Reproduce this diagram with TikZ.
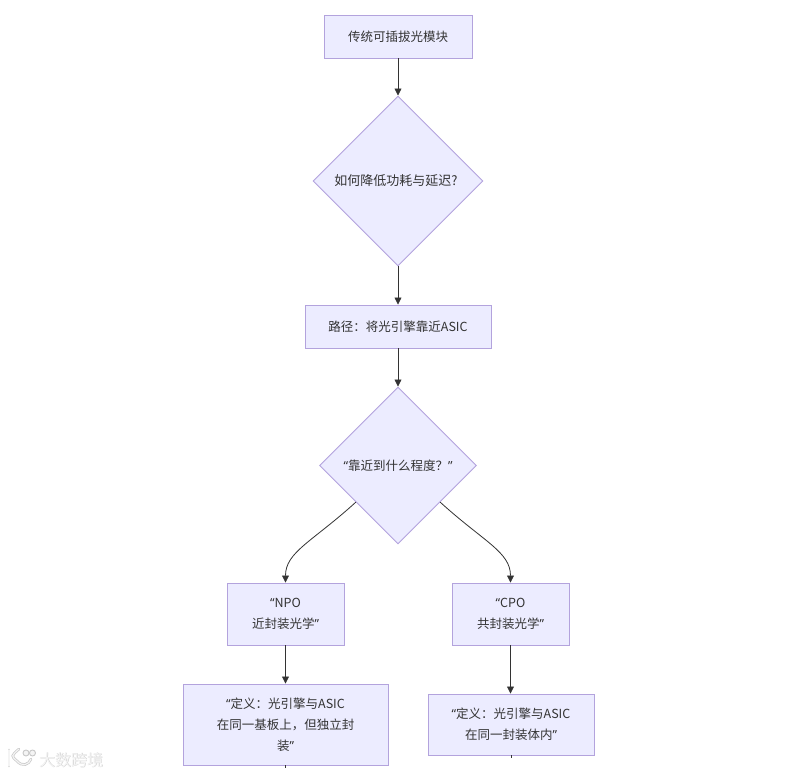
\documentclass[tikz,border=0pt]{standalone}
\usepackage{fontspec}
\setmainfont{Noto Sans CJK SC}
\newfontfamily\quotefont{Noto Sans}
\newcommand{\lqt}{{\quotefont “}}
\newcommand{\rqt}{{\quotefont ”}}
\usetikzlibrary{shapes.geometric,arrows.meta,calc}
\definecolor{nodefill}{HTML}{ECECFF}
\definecolor{nodeline}{HTML}{B3A3DD}
\definecolor{ink}{HTML}{333333}
\definecolor{wm}{HTML}{F4F4F4}
\definecolor{wmedge}{HTML}{C8C8C8}
\tikzset{
  box/.style={draw=nodeline,fill=nodefill,line width=.95pt,rectangle,inner sep=0pt,
    text=ink,font=\fontsize{12.5pt}{21pt}\selectfont,align=center},
  choice/.style={draw=nodeline,fill=nodefill,line width=.95pt,diamond,aspect=1,inner sep=0pt,
    text=ink,font=\fontsize{12.5pt}{21pt}\selectfont,align=center},
  link/.style={draw=ink,line width=.8pt,-{Triangle[length=7pt,width=7pt]}},
  stub/.style={draw=ink,line width=.8pt},
  wmtext/.style={text=wm,font=\fontsize{16pt}{16pt}\selectfont,inner sep=0pt},
  wmshade/.style={text=wmedge,font=\fontsize{16pt}{16pt}\selectfont,inner sep=0pt},
  wmline/.style={draw=wmedge,line width=2.6pt,line cap=round},
  wmlinein/.style={draw=wm,line width=1.2pt,line cap=round}
}
\begin{document}
\begin{tikzpicture}[x=1pt,y=-1pt]
\useasboundingbox[fill=white] (0,0) rectangle (795,775);
\node[box,minimum width=148pt,minimum height=43pt] (a) at (398,36.5) {传统可插拔光模块};
\node[choice,minimum width=170pt,minimum height=170pt] (b) at (398,181) {\fontsize{13pt}{21pt}\selectfont 如何降低功耗与延迟?\kern4pt};
\node[box,minimum width=186pt,minimum height=43pt] (c) at (398,326.5) {路径：将光引擎靠近ASIC};
\node[choice,minimum width=157pt,minimum height=157pt] (d) at (398,465.5) {\lqt 靠近到什么程度？\rqt};
\node[box,minimum width=117pt,minimum height=62pt] (e) at (285.5,614) {\lqt NPO\\近封装光学\rqt};
\node[box,minimum width=117pt,minimum height=62pt] (f) at (510.5,614) {\lqt CPO\\共封装光学\rqt};
\node[box,minimum width=205pt,minimum height=81pt] (g) at (285.5,724.5) {\lqt 定义：光引擎与ASIC\\在同一基板上，但独立封\\装\rqt};
\node[box,minimum width=166pt,minimum height=61pt] (h) at (511,724.5) {\lqt 定义：光引擎与ASIC\\在同一封装体内\rqt};
\coordinate (gend) at (285.5,768);
\coordinate (hend) at (511,758);
\draw[link] (a) -- (b);
\draw[link] (b) -- (c);
\draw[link] (c) -- (d);
\draw[link] ($(d.west)!.465!(d.south)$) .. controls (312,542) and (285.5,552) .. (e.north);
\draw[link] ($(d.east)!.465!(d.south)$) .. controls (484,542) and (510.5,552) .. (f.north);
\draw[link] (e) -- (g);
\draw[link] (f.south) -- (f.south |- h.north);
\draw[stub] (g.south) -- (gend);
\draw[stub] (h.south) -- (hend);
% watermark
\draw[wmline] (9,750) -- (9,766);
\draw[wmline] (19,749) .. controls (11,756) .. (17,761) .. controls (22,767) and (29,765) .. (31,759);
\draw[wmlinein] (9,750) -- (9,766);
\draw[wmlinein] (19,749) .. controls (11,756) .. (17,761) .. controls (22,767) and (29,765) .. (31,759);
\draw[draw=wmedge,line width=.9pt,fill=wm] (26,753) circle (3);
\draw[draw=wmedge,line width=.9pt,fill=wm] (32.5,753) circle (3);
\node[wmshade,anchor=west] (wmb) at (39.5,760.5) {大数跨境};
\node[wmtext,anchor=west] (wmt) at (39,760) {大数跨境};
\end{tikzpicture}
\end{document}
